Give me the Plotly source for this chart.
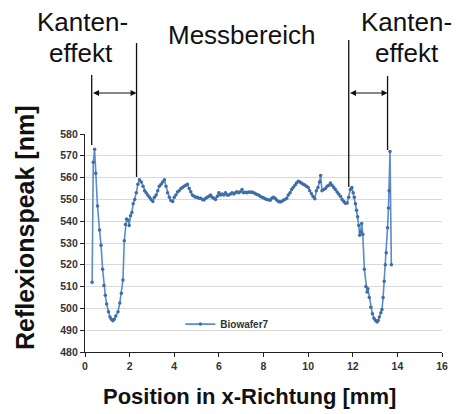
import plotly.graph_objects as go

# ---- data ----
position_mm = [
    0.32, 0.37, 0.43, 0.48, 0.56, 0.65, 0.72, 0.79, 0.85, 0.91, 0.97, 1.05, 1.12, 1.18, 1.25,
    1.31, 1.38, 1.48, 1.56, 1.63, 1.70, 1.76, 1.81, 1.86, 1.92, 1.98, 2.04, 2.10, 2.16, 2.23,
    2.30, 2.37, 2.44, 2.52, 2.60, 2.67, 2.74, 2.81, 2.89, 2.96, 3.04, 3.11, 3.19, 3.26, 3.33,
    3.41, 3.48, 3.56, 3.63, 3.70, 3.78, 3.85, 3.93, 4.00, 4.07, 4.15, 4.22, 4.30, 4.37, 4.44,
    4.52, 4.59, 4.67, 4.74, 4.81, 4.89, 4.96, 5.04, 5.11, 5.19, 5.26, 5.33, 5.41, 5.48, 5.56,
    5.63, 5.70, 5.78, 5.85, 5.93, 6.00, 6.07, 6.15, 6.22, 6.30, 6.37, 6.44, 6.52, 6.59, 6.67,
    6.74, 6.81, 6.89, 6.96, 7.04, 7.11, 7.19, 7.26, 7.33, 7.41, 7.48, 7.56, 7.63, 7.70, 7.78,
    7.85, 7.93, 8.00, 8.07, 8.15, 8.22, 8.30, 8.37, 8.44, 8.52, 8.59, 8.67, 8.74, 8.81, 8.89,
    8.96, 9.04, 9.11, 9.19, 9.26, 9.33, 9.41, 9.48, 9.56, 9.63, 9.70, 9.78, 9.85, 9.93, 10.00,
    10.07, 10.15, 10.22, 10.30, 10.37, 10.44, 10.51, 10.56, 10.62, 10.70, 10.78, 10.85, 10.93, 11.00, 11.07,
    11.15, 11.22, 11.30, 11.37, 11.45, 11.52, 11.60, 11.67, 11.75, 11.82, 11.89, 11.96, 12.02, 12.07, 12.12,
    12.17, 12.22, 12.27, 12.31, 12.35, 12.40, 12.45, 12.52, 12.59, 12.64, 12.68, 12.74, 12.81, 12.88, 12.95,
    13.02, 13.09, 13.14, 13.19, 13.26, 13.31, 13.36, 13.41, 13.46, 13.50, 13.56, 13.60, 13.63, 13.67, 13.73,
]
reflexion_nm = [
    512.0, 567.0, 573.0, 562.0, 547.0, 536.0, 529.0, 518.0, 510.5, 506.0, 502.0, 498.5, 496.0, 495.0, 494.3,
    495.0, 496.5, 498.5, 502.5, 507.0, 513.0, 531.0, 538.5, 541.0, 540.5, 538.0, 542.5, 544.0, 548.0, 550.0,
    553.0, 557.0, 559.0, 558.0, 556.0, 554.0, 553.0, 552.0, 551.0, 550.0, 549.0, 551.0, 552.0, 554.0, 556.0,
    557.0, 558.0, 559.0, 556.0, 553.0, 551.0, 549.5, 549.0, 551.0, 552.0, 553.5, 554.0, 555.0, 555.5, 556.0,
    556.5, 557.0, 555.0, 553.5, 552.0, 551.5, 551.0, 551.0, 550.5, 550.5, 550.0, 549.7, 550.5, 551.0, 551.5,
    552.0, 551.0, 550.5, 550.0, 551.5, 553.0, 552.0, 552.5, 552.0, 553.0, 552.0, 552.0, 552.5, 553.0, 552.5,
    553.0, 553.5, 553.0, 553.5, 554.5, 553.0, 553.3, 553.0, 553.4, 553.3, 553.4, 553.0, 552.7, 552.3, 552.0,
    551.5, 551.0, 550.8, 550.3, 550.0, 549.8, 549.6, 550.5, 551.0, 550.5, 549.7, 549.0, 548.8, 549.0, 549.6,
    550.0, 550.5, 552.0, 553.0, 554.5, 555.5, 556.5, 557.5, 558.3, 558.0, 557.5, 557.0, 556.6, 556.0, 555.5,
    554.0, 552.6, 551.3, 550.3, 554.0, 555.5, 558.0, 561.0, 554.0, 554.5, 555.0, 556.0, 556.5, 557.5, 556.5,
    555.5, 554.5, 553.4, 552.5, 551.4, 550.0, 549.0, 548.2, 548.3, 551.0, 554.5, 555.5, 553.0, 551.0, 548.0,
    545.0, 542.0, 538.0, 533.5, 535.0, 539.0, 534.0, 518.0, 510.0, 507.5, 509.0, 505.0, 500.5, 497.5, 495.5,
    494.5, 493.8, 494.5, 496.0, 498.0, 499.5, 505.0, 512.5, 520.0, 525.5, 537.0, 546.0, 554.0, 572.0, 520.0,
]
series_name = "Biowafer7"
x_ticks = [0, 2, 4, 6, 8, 10, 12, 14, 16]
y_ticks = [480, 490, 500, 510, 520, 530, 540, 550, 560, 570, 580]

FONT = "Liberation Sans, Arial, sans-serif"

fig = go.Figure()
fig.add_trace(go.Scatter(
    x=position_mm, y=reflexion_nm, name=series_name, mode="lines+markers",
    line=dict(color="#5B8BC9", width=1.6),
    marker=dict(symbol="circle", size=3.5, color="#3E6DA8"),
))

fig.update_layout(
    width=460, height=414,
    margin=dict(l=85, r=15, t=134, b=62),
    paper_bgcolor="white", plot_bgcolor="white",
    font=dict(family=FONT, color="#222"),
    showlegend=True,
    legend=dict(x=0.267, y=0.128, xanchor="left", yanchor="middle",
                bgcolor="rgba(0,0,0,0)", itemwidth=30,
                font=dict(size=10, color="#333", weight="bold")),
    xaxis=dict(range=[0, 16], tickvals=x_ticks, showgrid=False, zeroline=False,
               showline=True, linecolor="#222", linewidth=1.3,
               ticks="outside", ticklen=4, tickcolor="#222",
               tickfont=dict(size=10.5, color="#333", weight="bold")),
    yaxis=dict(range=[480, 580], tickvals=y_ticks, showgrid=True, gridcolor="#D9D9D9",
               gridwidth=1, zeroline=False,
               showline=True, linecolor="#222", linewidth=1.3,
               ticks="outside", ticklen=4, tickcolor="#222",
               tickfont=dict(size=10.5, color="#333", weight="bold")),
)

ann = []
# axis titles
ann.append(dict(text="Position in x-Richtung [mm]", xref="paper", yref="paper",
                x=0.461, y=-0.206, showarrow=False, xanchor="center", yanchor="middle",
                font=dict(size=22, color="#111", weight="bold")))
ann.append(dict(text="Reflexionspeak [nm]", xref="paper", yref="paper",
                x=-0.17, y=0.57, textangle=-90, showarrow=False, xanchor="center", yanchor="middle",
                font=dict(size=25, color="#111", weight="bold")))
# top labels
for txt, xp, yp in [("Kanten-", 82, 22), ("effekt", 81, 53), ("Messbereich", 243, 35),
                    ("Kanten-", 409, 22), ("effekt", 410, 53)]:
    ann.append(dict(text=txt, xref="paper", yref="paper",
                    x=(xp - 85) / 360, y=(352 - yp) / 218, showarrow=False,
                    xanchor="center", yanchor="middle",
                    font=dict(size=26, color="#111")))
# double arrows
for x_head, length in [(2.31, 45), (13.56, 39)]:
    ann.append(dict(text="", xref="x", yref="paper", x=x_head, y=(352 - 93) / 218,
                    ax=-length, ay=0, showarrow=True, arrowhead=2, startarrowhead=2,
                    arrowside="end+start", arrowsize=1, arrowwidth=1.2, arrowcolor="#111",
                    standoff=0, startstandoff=0))
fig.update_layout(annotations=ann)

# vertical marker lines
for xv, ytop, ybot in [(0.30, 75, 145), (2.31, 43, 177), (11.82, 40, 187), (13.56, 76, 150)]:
    fig.add_shape(type="line", xref="x", yref="paper", x0=xv, x1=xv,
                  y0=(352 - ytop) / 218, y1=(352 - ybot) / 218,
                  line=dict(color="#111", width=1.3))

fig.write_html("out.html")
